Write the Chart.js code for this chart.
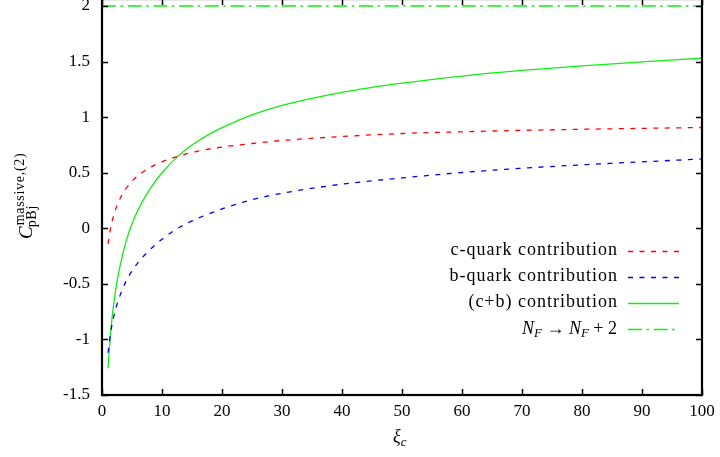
<!DOCTYPE html>
<html>
<head>
<meta charset="utf-8">
<script src="https://cdn.jsdelivr.net/npm/chart.js@4/dist/chart.umd.min.js"></script>
<style>
  html, body { margin: 0; padding: 0; background: #fff; overflow: hidden; }
  /* canvas is shifted up a little so the frame's top edge sits just off-screen */
  #massive { position: absolute; left: 0; top: -9px; }
</style>
</head>
<body>
<canvas id="massive" width="720" height="470"></canvas>
<script>
const xi = [1, 1.5, 2, 2.5, 3, 4, 5, 6, 8, 10, 13, 16, 20, 25, 30, 40, 50, 60, 70, 80, 90, 100];
const cQuark = [-0.14, 0.018, 0.126, 0.204, 0.266, 0.357, 0.423, 0.474, 0.547, 0.598, 0.653, 0.695, 0.731, 0.763, 0.79, 0.826, 0.853, 0.868, 0.881, 0.891, 0.899, 0.907];
const bQuark = [-1.12, -0.918, -0.786, -0.684, -0.606, -0.477, -0.383, -0.309, -0.192, -0.098, 0.012, 0.09, 0.174, 0.257, 0.315, 0.397, 0.453, 0.502, 0.54, 0.571, 0.598, 0.623];
const cPlusB = [-1.26, -0.90, -0.66, -0.48, -0.34, -0.12, 0.04, 0.165, 0.355, 0.50, 0.665, 0.785, 0.905, 1.02, 1.105, 1.223, 1.306, 1.37, 1.421, 1.462, 1.497, 1.53];
const nfX = [0, 100];
const nfShift = [2, 2];

const xTicks = [0, 10, 20, 30, 40, 50, 60, 70, 80, 90, 100];
const yTicks = [-1.5, -1, -0.5, 0, 0.5, 1, 1.5, 2];
const legendLabels = ['c-quark contribution', 'b-quark contribution', '(c+b) contribution', 'NF_SHIFT'];

const SERIF = '"Liberation Serif", "DejaVu Serif", serif';
const RED = '#ff0000', BLUE = '#0000ff', GREEN = '#11ee11';

const toPoints = (xs, ys) => xs.map((x, i) => ({ x: x, y: ys[i] }));

const series = [
  { label: legendLabels[0], data: toPoints(xi, cQuark), borderColor: RED, borderDash: [5, 6.5], width: 1.3 },
  { label: legendLabels[1], data: toPoints(xi, bQuark), borderColor: BLUE, borderDash: [5, 6.5], width: 1.3 },
  { label: legendLabels[2], data: toPoints(xi, cPlusB), borderColor: GREEN, borderDash: [], width: 1.3 },
  { label: legendLabels[3], data: toPoints(nfX, nfShift), borderColor: GREEN, borderDash: [14, 4.5, 2.5, 4.7], width: 1.3 }
];

// gnuplot-style frame: border on all four sides, ticks pointing inward
const framePlugin = {
  id: 'frame',
  afterDraw(chart) {
    const ctx = chart.ctx;
    const a = chart.chartArea;
    const xs = chart.scales.x, ys = chart.scales.y;
    const tl = 6;
    ctx.save();
    ctx.strokeStyle = '#000';
    ctx.lineWidth = 1.5;
    ctx.setLineDash([]);
    ctx.beginPath();
    xTicks.forEach(v => {
      const px = Math.round(xs.getPixelForValue(v)) + 0.5;
      ctx.moveTo(px, a.bottom); ctx.lineTo(px, a.bottom - tl);
      ctx.moveTo(px, a.top); ctx.lineTo(px, a.top + tl);
    });
    yTicks.forEach(v => {
      const py = Math.round(ys.getPixelForValue(v)) + 0.5;
      ctx.moveTo(a.left, py); ctx.lineTo(a.left + tl, py);
      ctx.moveTo(a.right, py); ctx.lineTo(a.right - tl, py);
    });
    ctx.stroke();
    ctx.lineWidth = 2.2;
    ctx.strokeRect(a.left, a.top, a.right - a.left, a.bottom - a.top);

    // legend: right-aligned text followed by a line sample
    const rowY = [259.7, 285.7, 311.7, 338.3];
    const textRight = 617, lineL = 628, lineR = 679;
    ctx.fillStyle = '#000';
    ctx.textBaseline = 'middle';
    series.forEach((s, i) => {
      const y = rowY[i];
      ctx.strokeStyle = s.borderColor;
      ctx.lineWidth = s.width + 0.2;
      ctx.setLineDash(s.borderDash);
      ctx.beginPath();
      ctx.moveTo(lineL, Math.round(y) + 0.5);
      ctx.lineTo(lineR, Math.round(y) + 0.5);
      ctx.stroke();
      ctx.setLineDash([]);
      if (s.label === 'NF_SHIFT') {
        drawNfShift(ctx, textRight, y);
      } else {
        ctx.font = '18px ' + SERIF;
        ctx.letterSpacing = '1px';
        ctx.textAlign = 'right';
        ctx.fillText(s.label, textRight + 1, y);
        ctx.letterSpacing = '0px';
      }
    });

    // x-axis title: xi_c
    ctx.textAlign = 'left';
    ctx.textBaseline = 'alphabetic';
    ctx.font = 'italic 18px ' + SERIF;
    const xiW = ctx.measureText('ξ').width;
    ctx.fillText('ξ', 393, 451);
    ctx.font = 'italic 13px ' + SERIF;
    ctx.fillText('c', 393 + xiW, 455);

    // y-axis title: C^{massive,(2)}_{pBj}, rotated
    ctx.translate(32, 248);
    ctx.rotate(-Math.PI / 2);
    ctx.font = 'italic 19px ' + SERIF;
    ctx.fillText('C', 0, 0);
    const cW = ctx.measureText('C').width;
    ctx.font = '14px ' + SERIF;
    ctx.letterSpacing = '0.7px';
    ctx.fillText('massive,(2)', cW + 1, -8);
    ctx.fillText('pBj', cW - 1, 4);
    ctx.letterSpacing = '0px';
    ctx.restore();
  }
};

// "N_F -> N_F + 2", drawn from its right edge
function drawNfShift(ctx, right, y) {
  const parts = [
    { t: 'N', f: 'italic 18px ' + SERIF, dy: 0 },
    { t: 'F', f: 'italic 13px ' + SERIF, dy: 4 },
    { t: ' → ', f: '18px ' + SERIF, dy: 0 },
    { t: 'N', f: 'italic 18px ' + SERIF, dy: 0 },
    { t: 'F', f: 'italic 13px ' + SERIF, dy: 4 },
    { t: ' + 2', f: '18px ' + SERIF, dy: 0 }
  ];
  let total = 0;
  parts.forEach(p => { ctx.font = p.f; p.w = ctx.measureText(p.t).width; total += p.w; });
  let x = right - total;
  ctx.textAlign = 'left';
  parts.forEach(p => {
    ctx.font = p.f;
    ctx.fillText(p.t, x, y + p.dy);
    x += p.w;
  });
}

new Chart(document.getElementById('massive').getContext('2d'), {
  type: 'line',
  data: {
    datasets: series.map(s => ({
      label: s.label,
      data: s.data,
      borderColor: s.borderColor,
      borderDash: s.borderDash,
      borderWidth: s.width,
      pointRadius: 0,
      fill: false,
      cubicInterpolationMode: 'monotone'
    }))
  },
  options: {
    responsive: false,
    animation: false,
    devicePixelRatio: 1,
    layout: { padding: { top: 8, right: 18, bottom: 0, left: 0 } },
    plugins: {
      legend: { display: false },
      tooltip: { enabled: false }
    },
    scales: {
      x: {
        type: 'linear',
        min: 0,
        max: 100,
        afterFit: s => { s.height = 66; s.paddingLeft = 0; s.paddingRight = 0; },
        afterBuildTicks: s => { s.ticks = xTicks.map(v => ({ value: v })); },
        grid: { display: false, drawTicks: false },
        border: { display: false },
        ticks: {
          padding: 6,
          maxRotation: 0,
          color: '#000',
          font: { family: SERIF, size: 17 }
        }
      },
      y: {
        type: 'linear',
        min: -1.5,
        max: 2.063,
        afterFit: s => { s.width = 102; s.paddingTop = 0; s.paddingBottom = 0; },
        afterBuildTicks: s => { s.ticks = yTicks.map(v => ({ value: v })); },
        grid: { display: false, drawTicks: false },
        border: { display: false },
        ticks: {
          padding: 12,
          color: '#000',
          font: { family: SERIF, size: 17 },
          callback: v => String(v)
        }
      }
    }
  },
  plugins: [framePlugin]
});
</script>
</body>
</html>
